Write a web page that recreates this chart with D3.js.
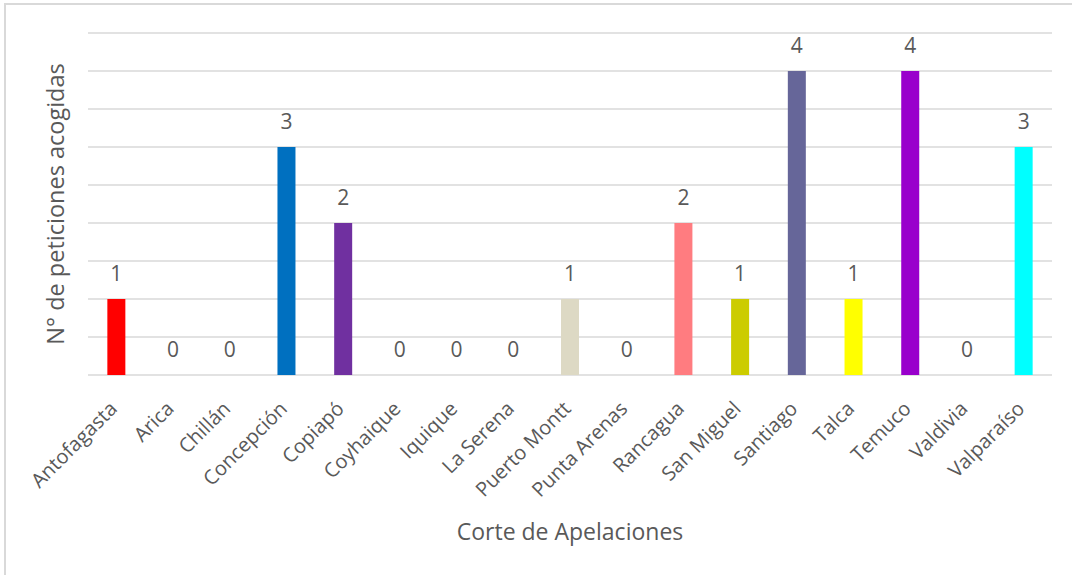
<!DOCTYPE html>
<html>
<head>
<meta charset="utf-8">
<script src="https://cdn.jsdelivr.net/npm/d3@7"></script>
<style>
  html, body { margin: 0; padding: 0; background: #fff; }
  svg { display: block; }
  text { font-family: "Open Sans", "Lato", sans-serif; fill: #595959; }
</style>
</head>
<body>
<svg id="chart" width="1072" height="575"></svg>
<script>
// Courts of appeal and accepted petitions per court
const courts = ["Antofagasta", "Arica", "Chillán", "Concepción", "Copiapó", "Coyhaique", "Iquique",
  "La Serena", "Puerto Montt", "Punta Arenas", "Rancagua", "San Miguel", "Santiago", "Talca",
  "Temuco", "Valdivia", "Valparaíso"];
const petitions = [1, 0, 0, 3, 2, 0, 0, 0, 1, 0, 2, 1, 4, 1, 4, 0, 3];
const barColors = ["#FF0000", "#A5A5A5", "#4472C4", "#0070C0", "#7030A0", "#70AD47", "#5B9BD5",
  "#ED7D31", "#DDD9C4", "#264478", "#FF7C80", "#CCCC00", "#666699", "#FFFF00",
  "#9900CC", "#997300", "#00FFFF"];
const gridTicks = [0, 0.5, 1, 1.5, 2, 2.5, 3, 3.5, 4, 4.5];
const xTitle = "Corte de Apelaciones";
const yTitle = "N° de peticiones acogidas";

const svg = d3.select("#chart");
const W = 1072, H = 575;
const plot = { left: 88, right: 1052, top: 33, bottom: 375 };

// chart frame: top and left edges
svg.append("path")
  .attr("d", `M5,${H} V4 H${W}`)
  .attr("fill", "none").attr("stroke", "#d9d9d9").attr("stroke-width", 2);

const x = d3.scaleBand().domain(courts).range([plot.left, plot.right]).paddingInner(0).paddingOuter(0);
const y = d3.scaleLinear().domain([0, 4.5]).range([plot.bottom, plot.top]);

// horizontal gridlines
svg.append("g").selectAll("line").data(gridTicks).join("line")
  .attr("x1", plot.left).attr("x2", plot.right)
  .attr("y1", d => y(d)).attr("y2", d => y(d))
  .attr("stroke", "#d9d9d9").attr("stroke-width", 1.5);

const barW = 18;
const data = courts.map((c, i) => ({ court: c, value: petitions[i], color: barColors[i] }));

// bars
svg.append("g").selectAll("rect").data(data).join("rect")
  .attr("x", d => x(d.court) + x.bandwidth() / 2 - barW / 2)
  .attr("width", barW)
  .attr("y", d => y(d.value))
  .attr("height", d => y(0) - y(d.value))
  .attr("fill", d => d.color);

// value labels
svg.append("g").selectAll("text").data(data).join("text")
  .attr("x", d => x(d.court) + x.bandwidth() / 2)
  .attr("y", d => y(d.value) - 18)
  .attr("text-anchor", "middle")
  .attr("font-size", 21)
  .text(d => d.value);

// x-axis category labels, rotated
const xAxis = d3.axisBottom(x).tickSize(0).tickPadding(0);
const gx = svg.append("g").attr("transform", `translate(0,${plot.bottom})`).call(xAxis);
gx.select(".domain").remove();
gx.attr("font-size", null).attr("font-family", null);
gx.selectAll(".tick text")
  .attr("font-size", 20)
  .attr("fill", "#595959")
  .attr("text-anchor", "end")
  .attr("dy", 0)
  .attr("y", 0)
  .attr("transform", "translate(2,35) rotate(-45)");

// axis titles
svg.append("text")
  .attr("x", (plot.left + plot.right) / 2)
  .attr("y", 540)
  .attr("text-anchor", "middle")
  .attr("font-size", 23)
  .text(xTitle);

svg.append("text")
  .attr("transform", `translate(64,${(plot.top + plot.bottom) / 2}) rotate(-90)`)
  .attr("text-anchor", "middle")
  .attr("font-size", 23.5)
  .text(yTitle);
</script>
</body>
</html>
